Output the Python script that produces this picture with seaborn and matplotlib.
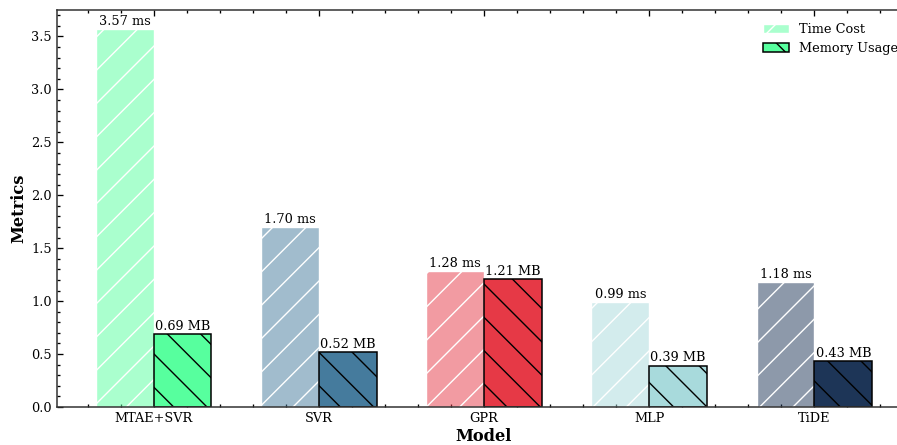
import pandas as pd
import matplotlib
matplotlib.use("Agg")
import matplotlib.pyplot as plt
from matplotlib.ticker import AutoMinorLocator, MultipleLocator, FormatStrFormatter
import seaborn as sns

# data
models = ["MTAE+SVR", "SVR", "GPR", "MLP", "TiDE"]
time_cost_ms = [3.57, 1.70, 1.28, 0.99, 1.18]
memory_mb = [0.69, 0.52, 1.21, 0.39, 0.43]
model_colors = ["#57FF9E", "#457B9D", "#E63946", "#A8DADC", "#1D3557"]

df = pd.DataFrame({
    "Model": models * 2,
    "Value": time_cost_ms + memory_mb,
    "Metric": ["Time Cost"] * len(models) + ["Memory Usage"] * len(models),
})

sns.set_theme(style="ticks")
plt.rcParams["font.family"] = ["DejaVu Serif"]
plt.rcParams["hatch.linewidth"] = 1.0
plt.rcParams["axes.linewidth"] = 1.1
for key in ["text.color", "axes.labelcolor", "xtick.color", "ytick.color"]:
    plt.rcParams[key] = "black"
plt.rcParams["axes.edgecolor"] = "#333333"

fs = 9.3
dpi = 100
fig = plt.figure(figsize=(897 / dpi, 445 / dpi), dpi=dpi)
ax = fig.add_axes([57 / 897, 1 - 407 / 445, (911 - 57) / 897, (407 - 10) / 445])

sns.barplot(data=df, x="Model", y="Value", hue="Metric", ax=ax,
            width=0.7, gap=0, legend=False, errorbar=None)

# restyle: time cost = pale colour + white '/', memory = solid + black '\'
time_bars, mem_bars = ax.containers[0], ax.containers[1]
for patch, c in zip(time_bars, model_colors):
    rgb = matplotlib.colors.to_rgb(c)
    patch.set_facecolor((*rgb, 0.5))
    patch.set_edgecolor("white")
    patch.set_linewidth(1.0)
    patch.set_hatch("/")
for patch, c in zip(mem_bars, model_colors):
    patch.set_facecolor(c)
    patch.set_edgecolor("black")
    patch.set_linewidth(1.1)
    patch.set_hatch("\\")

ax.bar_label(time_bars, labels=[f"{v:.2f} ms" for v in time_cost_ms],
             padding=1, fontsize=fs)
ax.bar_label(mem_bars, labels=[f"{v:.2f} MB" for v in memory_mb],
             padding=1, fontsize=fs)

ax.set_xlim(-0.585, len(models) - 1 + 0.585)
ax.set_ylim(0, 3.75)
ax.yaxis.set_major_locator(MultipleLocator(0.5))
ax.yaxis.set_major_formatter(FormatStrFormatter("%.1f"))
ax.yaxis.set_minor_locator(MultipleLocator(0.1))
ax.xaxis.set_minor_locator(AutoMinorLocator(5))
ax.tick_params(which="both", direction="in", top=True, right=True,
               labelsize=fs, width=0.95, pad=3.8)
ax.tick_params(which="major", length=4.2)
ax.tick_params(which="minor", length=2.1)

ax.set_xlabel("Model", fontsize=11.7, fontweight="bold", labelpad=1.9)
ax.set_ylabel("Metrics", fontsize=11.7, fontweight="bold", labelpad=2.8)

ax.legend(handles=[time_bars[0], mem_bars[0]],
          labels=["Time Cost", "Memory Usage"],
          loc="upper right", frameon=False, fontsize=fs,
          handlelength=2.0, borderaxespad=0.6)

plt.savefig("out.png", dpi=dpi)
